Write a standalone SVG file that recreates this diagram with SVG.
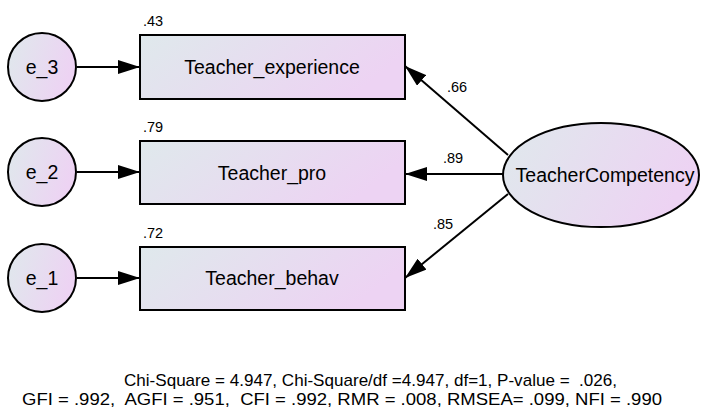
<svg xmlns="http://www.w3.org/2000/svg" width="701" height="411" viewBox="0 0 701 411">
<style>
.node{stroke:#000;stroke-width:2;fill:url(#g)}
.lbl{font-family:"Liberation Sans",Arial,sans-serif;font-size:19.5px;fill:#000;text-anchor:middle;dominant-baseline:central}
.num{font-family:"Liberation Sans",Arial,sans-serif;font-size:14.5px;fill:#000}
.fit{font-family:"Liberation Sans",Arial,sans-serif;font-size:17px;fill:#000;white-space:pre}
</style>
<defs>
<linearGradient id="g" x1="0" y1="0" x2="1" y2="0.3">
<stop offset="0" stop-color="#dfe9ec"/>
<stop offset="1" stop-color="#edd3f3"/>
</linearGradient>
<marker id="ah2" markerWidth="22" markerHeight="14" refX="22" refY="7" orient="auto" markerUnits="userSpaceOnUse" viewBox="0 0 22 14">
<path d="M0,0 L22,7 L0,14 Z" fill="#000"/>
</marker>
</defs>
<g id="connectors">
<line x1="77" y1="67" x2="140" y2="67" stroke="#000" stroke-width="2" marker-end="url(#ah2)"/>
<line x1="77" y1="172" x2="140" y2="172" stroke="#000" stroke-width="2" marker-end="url(#ah2)"/>
<line x1="77" y1="278" x2="140" y2="278" stroke="#000" stroke-width="2" marker-end="url(#ah2)"/>
<line x1="508" y1="155" x2="405" y2="66" stroke="#000" stroke-width="2" marker-end="url(#ah2)"/>
<line x1="503" y1="174" x2="405" y2="174" stroke="#000" stroke-width="2" marker-end="url(#ah2)"/>
<line x1="508" y1="194" x2="405" y2="278" stroke="#000" stroke-width="2" marker-end="url(#ah2)"/>
<text class="num" x="447" y="92">.66</text>
<text class="num" x="443" y="163">.89</text>
<text class="num" x="433" y="229">.85</text>
</g>
<g id="e_3">
<circle class="node" cx="42" cy="67" r="34"/>
<text class="lbl" x="42" y="67">e_3</text>
</g>
<g id="e_2">
<circle class="node" cx="42" cy="172" r="34"/>
<text class="lbl" x="42" y="172">e_2</text>
</g>
<g id="e_1">
<circle class="node" cx="42" cy="278" r="34"/>
<text class="lbl" x="42" y="278">e_1</text>
</g>
<g id="Teacher_experience">
<rect class="node" x="140" y="35" width="265" height="64"/>
<text class="num" x="143" y="26">.43</text>
<text class="lbl" x="272" y="67">Teacher_experience</text>
</g>
<g id="Teacher_pro">
<rect class="node" x="140" y="141" width="265" height="63"/>
<text class="num" x="143" y="132">.79</text>
<text class="lbl" x="272" y="173">Teacher_pro</text>
</g>
<g id="Teacher_behav">
<rect class="node" x="140" y="247" width="265" height="63"/>
<text class="num" x="143" y="238">.72</text>
<text class="lbl" x="272" y="278">Teacher_behav</text>
</g>
<g id="TeacherCompetency">
<ellipse class="node" cx="601" cy="175" rx="98" ry="52"/>
<text class="lbl" x="605" y="175">TeacherCompetency</text>
</g>
<g id="fit">
<text class="fit" x="124" y="386" textLength="493" lengthAdjust="spacingAndGlyphs">Chi-Square = 4.947, Chi-Square/df =4.947, df=1, P-value =  .026,</text>
<text class="fit" x="22" y="405" textLength="640" lengthAdjust="spacingAndGlyphs">GFI = .992,  AGFI = .951,  CFI = .992, RMR = .008, RMSEA= .099, NFI = .990</text>
</g>
</svg>
